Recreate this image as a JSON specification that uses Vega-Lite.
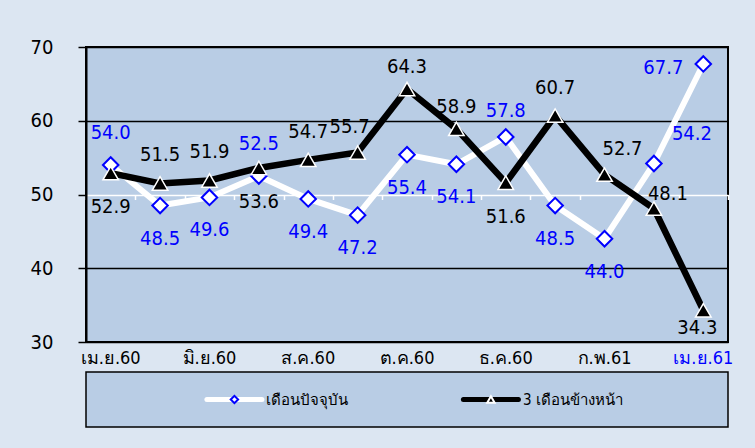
{
  "$schema": "https://vega.github.io/schema/vega-lite/v6.json",
  "background": "#DCE6F2",
  "padding": {"left": 29, "top": 36, "right": 23, "bottom": 23},
  "spacing": 3,
  "config": {
    "font": "DejaVu Sans Condensed",
    "view": {"fill": "#B9CDE5", "stroke": "black", "strokeWidth": 2}
  },
  "vconcat": [
    {
      "width": 642,
      "height": 295,
      "data": {
        "values": [
          {"month": "เม.ย.60", "cur": 54.0, "fut": 52.9},
          {"month": "พ.ค.60", "cur": 48.5, "fut": 51.5},
          {"month": "มิ.ย.60", "cur": 49.6, "fut": 51.9},
          {"month": "ก.ค.60", "cur": 52.5, "fut": 53.6},
          {"month": "ส.ค.60", "cur": 49.4, "fut": 54.7},
          {"month": "ก.ย.60", "cur": 47.2, "fut": 55.7},
          {"month": "ต.ค.60", "cur": 55.4, "fut": 64.3},
          {"month": "พ.ย.60", "cur": 54.1, "fut": 58.9},
          {"month": "ธ.ค.60", "cur": 57.8, "fut": 51.6},
          {"month": "ม.ค.61", "cur": 48.5, "fut": 60.7},
          {"month": "ก.พ.61", "cur": 44.0, "fut": 52.7},
          {"month": "มี.ค.61", "cur": 54.2, "fut": 48.1},
          {"month": "เม.ย.61", "cur": 67.7, "fut": 34.3}
        ]
      },
      "encoding": {
        "x": {"field": "month", "type": "ordinal", "sort": null, "scale": {"type": "band", "paddingInner": 0, "paddingOuter": 0}, "axis": null}
      },
      "resolve": {"axis": {"x": "independent", "y": "independent"}},
      "layer": [
        {
          "mark": {"type": "line", "color": "white", "strokeWidth": 6},
          "encoding": {
            "x": {
              "field": "month", "type": "ordinal", "sort": null,
              "scale": {"type": "band", "paddingInner": 0, "paddingOuter": 0},
              "axis": {
                "title": null, "labelAngle": 0, "ticks": false, "domain": false,
                "values": ["เม.ย.60", "มิ.ย.60", "ส.ค.60", "ต.ค.60", "ธ.ค.60", "ก.พ.61", "เม.ย.61"],
                "labelFontSize": 18, "labelPadding": 7,
                "labelColor": {"condition": {"test": "datum.value === 'เม.ย.61'", "value": "#0000FF"}, "value": "black"}
              }
            },
            "y": {
              "field": "cur", "type": "quantitative",
              "scale": {"domain": [30, 70], "nice": false, "zero": false},
              "axis": {
                "title": null, "values": [30, 40, 50, 60, 70],
                "grid": true, "gridWidth": 1.5,
                "gridColor": {"condition": {"test": "datum.value === 50", "value": "white"}, "value": "black"},
                "domain": true, "domainColor": "black", "domainWidth": 2,
                "tickColor": "black", "tickSize": 8, "tickWidth": 1.5,
                "labelFontSize": 20, "labelPadding": 25, "labelColor": "black"
              }
            }
          }
        },
        {
          "mark": {"type": "line", "color": "black", "strokeWidth": 6.5},
          "encoding": {"y": {"field": "fut", "type": "quantitative", "axis": null}}
        },
        {
          "mark": {"type": "point", "shape": "diamond", "size": 240, "filled": true, "fill": "white", "stroke": "#0000FF", "strokeWidth": 2, "opacity": 1},
          "encoding": {
            "x": {
              "field": "month", "type": "ordinal", "sort": null,
              "scale": {"type": "band", "paddingInner": 0, "paddingOuter": 0},
              "axis": {
                "title": null, "orient": "bottom", "offset": -147.5, "labels": false, "domain": false, "grid": false,
                "ticks": true, "tickColor": "white", "tickSize": 5, "tickWidth": 1.5, "tickBand": "extent"
              }
            },
            "y": {"field": "cur", "type": "quantitative", "axis": null}
          }
        },
        {
          "mark": {"type": "point", "shape": "triangle-up", "size": 240, "filled": true, "fill": "black", "stroke": "white", "strokeWidth": 1.5, "opacity": 1},
          "encoding": {"y": {"field": "fut", "type": "quantitative", "axis": null}}
        },
        {
          "transform": [{"filter": {"field": "month", "oneOf": ["เม.ย.60", "ก.ค.60"]}}],
          "mark": {"type": "text", "dy": -32, "color": "#0000FF", "fontSize": 20},
          "encoding": {"y": {"field": "cur", "type": "quantitative", "axis": null}, "text": {"field": "cur", "type": "quantitative", "format": ".1f"}}
        },
        {
          "transform": [{"filter": {"field": "month", "oneOf": ["ธ.ค.60"]}}],
          "mark": {"type": "text", "dy": -26, "color": "#0000FF", "fontSize": 20},
          "encoding": {"y": {"field": "cur", "type": "quantitative", "axis": null}, "text": {"field": "cur", "type": "quantitative", "format": ".1f"}}
        },
        {
          "transform": [{"filter": {"field": "month", "oneOf": ["พ.ค.60", "มิ.ย.60", "ส.ค.60", "ก.ย.60", "ต.ค.60", "พ.ย.60", "ม.ค.61", "ก.พ.61"]}}],
          "mark": {"type": "text", "dy": 33, "color": "#0000FF", "fontSize": 20},
          "encoding": {"y": {"field": "cur", "type": "quantitative", "axis": null}, "text": {"field": "cur", "type": "quantitative", "format": ".1f"}}
        },
        {
          "transform": [{"filter": {"field": "month", "oneOf": ["มี.ค.61"]}}],
          "mark": {"type": "text", "dx": 38, "dy": -30, "color": "#0000FF", "fontSize": 20},
          "encoding": {"y": {"field": "cur", "type": "quantitative", "axis": null}, "text": {"field": "cur", "type": "quantitative", "format": ".1f"}}
        },
        {
          "transform": [{"filter": {"field": "month", "oneOf": ["เม.ย.61"]}}],
          "mark": {"type": "text", "dx": -40, "dy": 4, "color": "#0000FF", "fontSize": 20},
          "encoding": {"y": {"field": "cur", "type": "quantitative", "axis": null}, "text": {"field": "cur", "type": "quantitative", "format": ".1f"}}
        },
        {
          "transform": [{"filter": {"field": "month", "oneOf": ["เม.ย.60", "ก.ค.60", "ธ.ค.60"]}}],
          "mark": {"type": "text", "dy": 34, "color": "black", "fontSize": 20},
          "encoding": {"y": {"field": "fut", "type": "quantitative", "axis": null}, "text": {"field": "fut", "type": "quantitative", "format": ".1f"}}
        },
        {
          "transform": [{"filter": {"field": "month", "oneOf": ["พ.ค.60", "มิ.ย.60", "ส.ค.60", "ม.ค.61"]}}],
          "mark": {"type": "text", "dy": -28, "color": "black", "fontSize": 20},
          "encoding": {"y": {"field": "fut", "type": "quantitative", "axis": null}, "text": {"field": "fut", "type": "quantitative", "format": ".1f"}}
        },
        {
          "transform": [{"filter": {"field": "month", "oneOf": ["ต.ค.60", "พ.ย.60"]}}],
          "mark": {"type": "text", "dy": -22, "color": "black", "fontSize": 20},
          "encoding": {"y": {"field": "fut", "type": "quantitative", "axis": null}, "text": {"field": "fut", "type": "quantitative", "format": ".1f"}}
        },
        {
          "transform": [{"filter": {"field": "month", "oneOf": ["ก.ย.60"]}}],
          "mark": {"type": "text", "dx": -8, "dy": -25, "color": "black", "fontSize": 20},
          "encoding": {"y": {"field": "fut", "type": "quantitative", "axis": null}, "text": {"field": "fut", "type": "quantitative", "format": ".1f"}}
        },
        {
          "transform": [{"filter": {"field": "month", "oneOf": ["ก.พ.61"]}}],
          "mark": {"type": "text", "dx": 18, "dy": -26, "color": "black", "fontSize": 20},
          "encoding": {"y": {"field": "fut", "type": "quantitative", "axis": null}, "text": {"field": "fut", "type": "quantitative", "format": ".1f"}}
        },
        {
          "transform": [{"filter": {"field": "month", "oneOf": ["มี.ค.61"]}}],
          "mark": {"type": "text", "dx": 14, "dy": -15, "color": "black", "fontSize": 20},
          "encoding": {"y": {"field": "fut", "type": "quantitative", "axis": null}, "text": {"field": "fut", "type": "quantitative", "format": ".1f"}}
        },
        {
          "transform": [{"filter": {"field": "month", "oneOf": ["เม.ย.61"]}}],
          "mark": {"type": "text", "dx": -6, "dy": 18, "color": "black", "fontSize": 20},
          "encoding": {"y": {"field": "fut", "type": "quantitative", "axis": null}, "text": {"field": "fut", "type": "quantitative", "format": ".1f"}}
        }
      ]
    },
    {
      "width": 642,
      "height": 55,
      "view": {"fill": "#B9CDE5", "stroke": "black", "strokeWidth": 1.5},
      "data": {"values": [{"series": "เดือนปัจจุบัน"}, {"series": "3 เดือนข้างหน้า"}]},
      "encoding": {
        "x": {"field": "series", "type": "nominal", "sort": null, "scale": {"type": "point", "padding": 0.7515, "align": 0.385}, "axis": null}
      },
      "resolve": {"scale": {"stroke": "independent"}},
      "layer": [
        {
          "mark": {"type": "point", "shape": "M-1,0L1,0", "size": 3025, "strokeWidth": 5, "strokeCap": "round", "filled": false, "opacity": 1},
          "encoding": {
            "stroke": {"field": "series", "type": "nominal", "scale": {"domain": ["เดือนปัจจุบัน", "3 เดือนข้างหน้า"], "range": ["white", "black"]}, "legend": null}
          }
        },
        {
          "mark": {"type": "point", "size": 55, "strokeWidth": 2, "filled": true, "opacity": 1},
          "encoding": {
            "shape": {"field": "series", "type": "nominal", "scale": {"domain": ["เดือนปัจจุบัน", "3 เดือนข้างหน้า"], "range": ["diamond", "triangle-up"]}, "legend": null},
            "fill": {"field": "series", "type": "nominal", "scale": {"domain": ["เดือนปัจจุบัน", "3 เดือนข้างหน้า"], "range": ["white", "black"]}, "legend": null},
            "stroke": {"field": "series", "type": "nominal", "scale": {"domain": ["เดือนปัจจุบัน", "3 เดือนข้างหน้า"], "range": ["#0000FF", "white"]}, "legend": null}
          }
        },
        {
          "mark": {"type": "text", "align": "left", "dx": 32, "fontSize": 15, "color": "black"},
          "encoding": {"text": {"field": "series", "type": "nominal"}}
        }
      ]
    }
  ]
}
